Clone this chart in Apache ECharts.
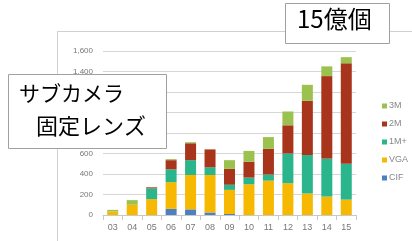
<!DOCTYPE html>
<html>
<head>
<meta charset="utf-8">
<script src="https://cdn.jsdelivr.net/npm/echarts@6/dist/echarts.min.js"></script>
<style>
  html, body { margin: 0; padding: 0; background: #fff; }
  #chart { width: 412px; height: 241px; }
</style>
</head>
<body>
<div id="chart"></div>
<script>
// years (20xx)
var years = ['03', '04', '05', '06', '07', '08', '09', '10', '11', '12', '13', '14', '15'];
// shipments per resolution, million units
var cif   = [0, 0, 0, 60, 55, 25, 10, 0, 0, 0, 0, 0, 0];
var vga   = [35, 100, 155, 260, 335, 365, 235, 300, 335, 310, 210, 180, 150];
var m1    = [0, 0, 105, 125, 145, 75, 50, 65, 60, 290, 375, 370, 350];
var m2    = [0, 0, 10, 90, 165, 175, 155, 155, 250, 275, 530, 805, 980];
var m3    = [15, 45, 0, 10, 10, 0, 85, 105, 115, 135, 155, 95, 60];

var myChart = echarts.init(document.getElementById('chart'));

function bar(name, data, color) {
    return {
        name: name,
        type: 'bar',
        stack: 'total',
        barWidth: 11,
        itemStyle: { color: color },
        data: data
    };
}

var option = {
    animation: false,
    backgroundColor: '#fff',
    grid: { left: 103, right: 56, top: 51, bottom: 26 },
    legend: {
        orient: 'vertical',
        left: 377,
        top: 95,
        itemWidth: 5,
        itemHeight: 5,
        itemGap: 6,
        icon: 'rect',
        textStyle: { fontSize: 9, color: '#888', fontFamily: 'Liberation Sans', lineHeight: 12, padding: [0, 0, 0, -3] },
        data: ['3M', '2M', '1M+', 'VGA', 'CIF']
    },
    xAxis: {
        type: 'category',
        data: years,
        axisLine: { lineStyle: { color: '#c8c8c8' } },
        axisTick: { show: true, lineStyle: { color: '#c8c8c8' } },
        axisLabel: { fontSize: 9, color: '#777', margin: 8, fontFamily: 'Liberation Sans' }
    },
    yAxis: {
        type: 'value',
        min: 0,
        max: 1600,
        interval: 200,
        axisLine: { show: false },
        axisTick: { show: false },
        splitLine: { lineStyle: { color: '#d6d6d6' } },
        axisLabel: {
            fontSize: 8, color: '#777', margin: 10, fontFamily: 'Liberation Sans',
            formatter: function (v) { return v.toLocaleString('en-US'); }
        }
    },
    series: [
        bar('CIF', cif, '#4f7fc0'),
        bar('VGA', vga, '#f6b800'),
        bar('1M+', m1, '#2bb58c'),
        bar('2M', m2, '#a8341b'),
        bar('3M', m3, '#9bc14f')
    ],
    graphic: [
        // outer frame lines
        { type: 'line', shape: { x1: 57.5, y1: 31.5, x2: 57.5, y2: 241 }, style: { stroke: '#d0d0d0', lineWidth: 1 }, z: 1 },
        { type: 'line', shape: { x1: 57.5, y1: 31.5, x2: 412, y2: 31.5 }, style: { stroke: '#d0d0d0', lineWidth: 1 }, z: 1 },
        // annotation boxes
        {
            type: 'rect', left: 8, top: 74, z: 100,
            shape: { width: 158, height: 74 },
            style: { fill: '#fff', stroke: '#a0a0a0', lineWidth: 1 }
        },
        {
            type: 'text', left: 19, top: 83, z: 101,
            style: { text: 'サブカメラ', fontSize: 21, fill: '#000', fontFamily: 'Noto Sans CJK JP' }
        },
        {
            type: 'text', left: 36, top: 115, z: 101,
            style: { text: '固定レンズ', fontSize: 22, fill: '#000', fontFamily: 'Noto Sans CJK JP' }
        },
        {
            type: 'rect', left: 285, top: 3, z: 100,
            shape: { width: 104, height: 40 },
            style: { fill: '#fff', stroke: '#a0a0a0', lineWidth: 1 }
        },
        {
            type: 'text', left: 297, top: 7, z: 101,
            style: { text: '15億個', fontSize: 24, fill: '#000', fontFamily: 'Noto Sans CJK JP' }
        }
    ]
};

myChart.setOption(option);
</script>
</body>
</html>
